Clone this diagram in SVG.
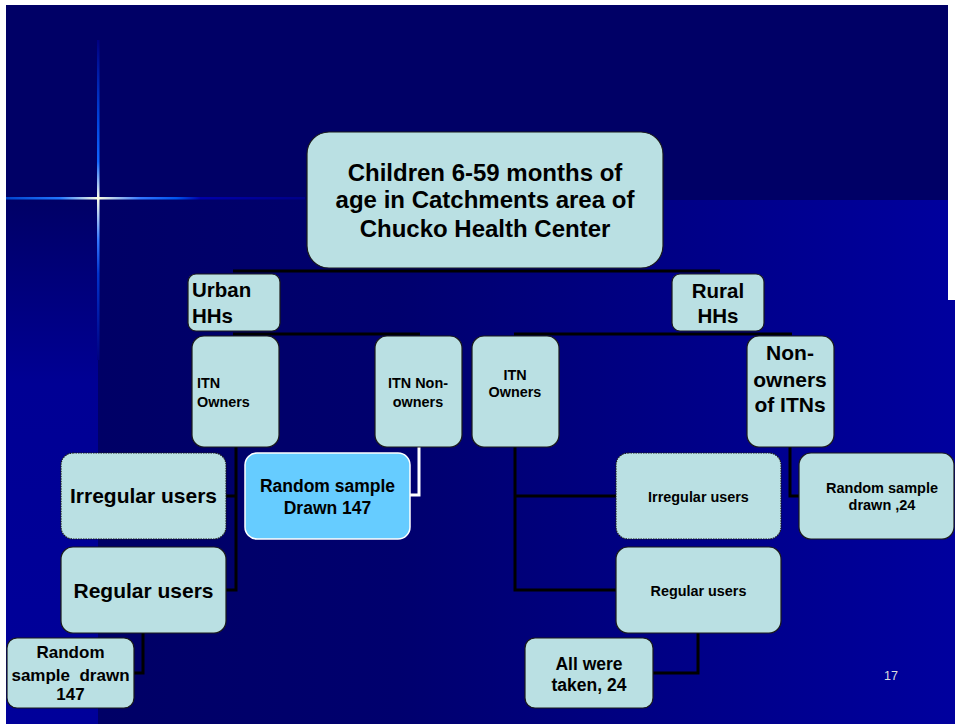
<svg xmlns="http://www.w3.org/2000/svg" width="955" height="724" viewBox="0 0 955 724">
<style>
.box{fill:#BAE0E3;stroke:#1a1a1a;stroke-width:1.2}
.blue{fill:#66CCFF;stroke:#ffffff;stroke-width:1.5}
.t{font-family:"Liberation Sans",Arial,sans-serif;font-weight:bold;fill:#000}
.c{text-anchor:middle}
.ln{fill:none;stroke:#000;stroke-width:3}
.wl{fill:none;stroke:#fff;stroke-width:3}
</style>
<defs>
<linearGradient id="lower" x1="0" y1="0" x2="1" y2="0">
<stop offset="0" stop-color="#000066"/>
<stop offset="0.35" stop-color="#00006E"/>
<stop offset="1" stop-color="#00009E"/>
</linearGradient>
<linearGradient id="band" x1="0" y1="0" x2="0" y2="1">
<stop offset="0" stop-color="#000066"/>
<stop offset="0.35" stop-color="#000094"/>
<stop offset="1" stop-color="#00009A"/>
</linearGradient>
<linearGradient id="sv" gradientUnits="userSpaceOnUse" x1="0" y1="40" x2="0" y2="360">
<stop offset="0" stop-color="#000080"/>
<stop offset="0.25" stop-color="#0044DD"/>
<stop offset="0.38" stop-color="#1166FF"/>
<stop offset="0.494" stop-color="#FFFFE8"/>
<stop offset="0.625" stop-color="#3377FF"/>
<stop offset="0.73" stop-color="#0033CC"/>
<stop offset="1" stop-color="#000080"/>
</linearGradient>
<linearGradient id="sh" gradientUnits="userSpaceOnUse" x1="6" y1="0" x2="305" y2="0">
<stop offset="0" stop-color="#0044CC"/>
<stop offset="0.18" stop-color="#2277FF"/>
<stop offset="0.307" stop-color="#FFFFE0"/>
<stop offset="0.45" stop-color="#3377FF"/>
<stop offset="0.57" stop-color="#0055EE"/>
<stop offset="0.65" stop-color="#0000AA"/>
<stop offset="1" stop-color="#000088"/>
</linearGradient>
</defs>
<g id="background">
<rect x="0" y="0" width="955" height="724" fill="#ffffff"/>
<rect x="6" y="5" width="949" height="719" fill="#000066"/>
<rect x="98" y="200" width="857" height="524" fill="url(#lower)"/>
<rect x="6" y="200" width="92" height="524" fill="url(#band)"/>
<rect x="948" y="0" width="7" height="300" fill="#ffffff"/>
<rect x="97" y="40" width="2.5" height="320" fill="url(#sv)"/>
<rect x="6" y="197" width="299" height="2.5" fill="url(#sh)"/>
</g>
<g id="connectors">
<path class="ln" d="M233 271 H720"/>
<path class="ln" d="M233 334 H420"/>
<path class="ln" d="M514 334 H792"/>
<path class="ln" d="M236 447 V591.5 M226 496 H236 M226 590 H236"/>
<path class="ln" d="M143 633 V673 H134"/>
<path class="wl" d="M419 447 V495 H410"/>
<path class="ln" d="M515 447 V591.5 M515 496 H616 M515 590 H616"/>
<path class="ln" d="M790 447 V496 H799"/>
<path class="ln" d="M698 633 V673 H653"/>
</g>
<g id="root">
<rect class="box" x="307" y="132" width="356" height="136" rx="22"/>
<text class="t c" x="485" y="181" font-size="24">Children 6-59 months of</text>
<text class="t c" x="485" y="208" font-size="24">age in Catchments area of</text>
<text class="t c" x="485" y="237" font-size="24">Chucko Health Center</text>
</g>
<g id="urban">
<rect class="box" x="188" y="274" width="92" height="57" rx="8"/>
<text class="t" x="192" y="297" font-size="20.5">Urban</text>
<text class="t" x="192" y="323" font-size="20.5">HHs</text>
</g>
<g id="rural">
<rect class="box" x="672" y="274" width="92" height="57" rx="8"/>
<text class="t c" x="718" y="298" font-size="20.5">Rural</text>
<text class="t c" x="718" y="323" font-size="20.5">HHs</text>
</g>
<g id="urban-itn-owners">
<rect class="box" x="192" y="336" width="87" height="111" rx="12"/>
<text class="t" x="197" y="388" font-size="14.4">ITN</text>
<text class="t" x="197" y="407" font-size="14.4">Owners</text>
</g>
<g id="urban-itn-nonowners">
<rect class="box" x="375" y="336" width="87" height="111" rx="12"/>
<text class="t c" x="418" y="388" font-size="14.4">ITN Non-</text>
<text class="t c" x="418" y="407" font-size="14.4">owners</text>
</g>
<g id="rural-itn-owners">
<rect class="box" x="472" y="336" width="87" height="111" rx="12"/>
<text class="t c" x="515" y="380" font-size="14.4">ITN</text>
<text class="t c" x="515" y="397" font-size="14.4">Owners</text>
</g>
<g id="rural-nonowners">
<rect class="box" x="747" y="336" width="87" height="111" rx="12"/>
<text class="t c" x="790" y="360" font-size="21">Non-</text>
<text class="t c" x="790" y="387" font-size="21">owners</text>
<text class="t c" x="790" y="412" font-size="21">of ITNs</text>
</g>
<g id="urban-irregular">
<rect class="box" x="61" y="453" width="165" height="86" rx="12" stroke-dasharray="1.5 1"/>
<text class="t c" x="143.5" y="503" font-size="21">Irregular users</text>
</g>
<g id="urban-regular">
<rect class="box" x="61" y="547" width="165" height="86" rx="12"/>
<text class="t c" x="143.5" y="598" font-size="21">Regular users</text>
</g>
<g id="urban-sample">
<rect class="box" x="7" y="638" width="127" height="70" rx="10"/>
<text class="t c" x="70.5" y="658" font-size="17">Random</text>
<text class="t c" x="70.5" y="681" font-size="17">sample&#160; drawn</text>
<text class="t c" x="70.5" y="700" font-size="17">147</text>
</g>
<g id="nonowner-sample">
<rect class="blue" x="245" y="453" width="165" height="86" rx="12"/>
<text class="t c" x="327.5" y="492" font-size="17.5">Random sample</text>
<text class="t c" x="327.5" y="514" font-size="17.5">Drawn 147</text>
</g>
<g id="rural-irregular">
<rect class="box" x="616" y="453" width="165" height="86" rx="12" stroke-dasharray="1.5 1"/>
<text class="t c" x="698.5" y="502" font-size="14.4">Irregular users</text>
</g>
<g id="rural-regular">
<rect class="box" x="616" y="547" width="165" height="86" rx="12"/>
<text class="t c" x="698.5" y="596" font-size="14.4">Regular users</text>
</g>
<g id="rural-nonowner-sample">
<rect class="box" x="799" y="453" width="155" height="86" rx="12"/>
<text class="t c" x="882" y="493" font-size="14.5">Random sample</text>
<text class="t c" x="882" y="510" font-size="14.5">drawn ,24</text>
</g>
<g id="rural-all-taken">
<rect class="box" x="525" y="638" width="128" height="70" rx="10"/>
<text class="t c" x="589" y="670" font-size="17.5">All were</text>
<text class="t c" x="589" y="691" font-size="17.5">taken, 24</text>
</g>
<text x="891" y="680" font-family="Liberation Sans, Arial, sans-serif" font-size="12.6" fill="#DDDDDD" text-anchor="middle">17</text>
</svg>
